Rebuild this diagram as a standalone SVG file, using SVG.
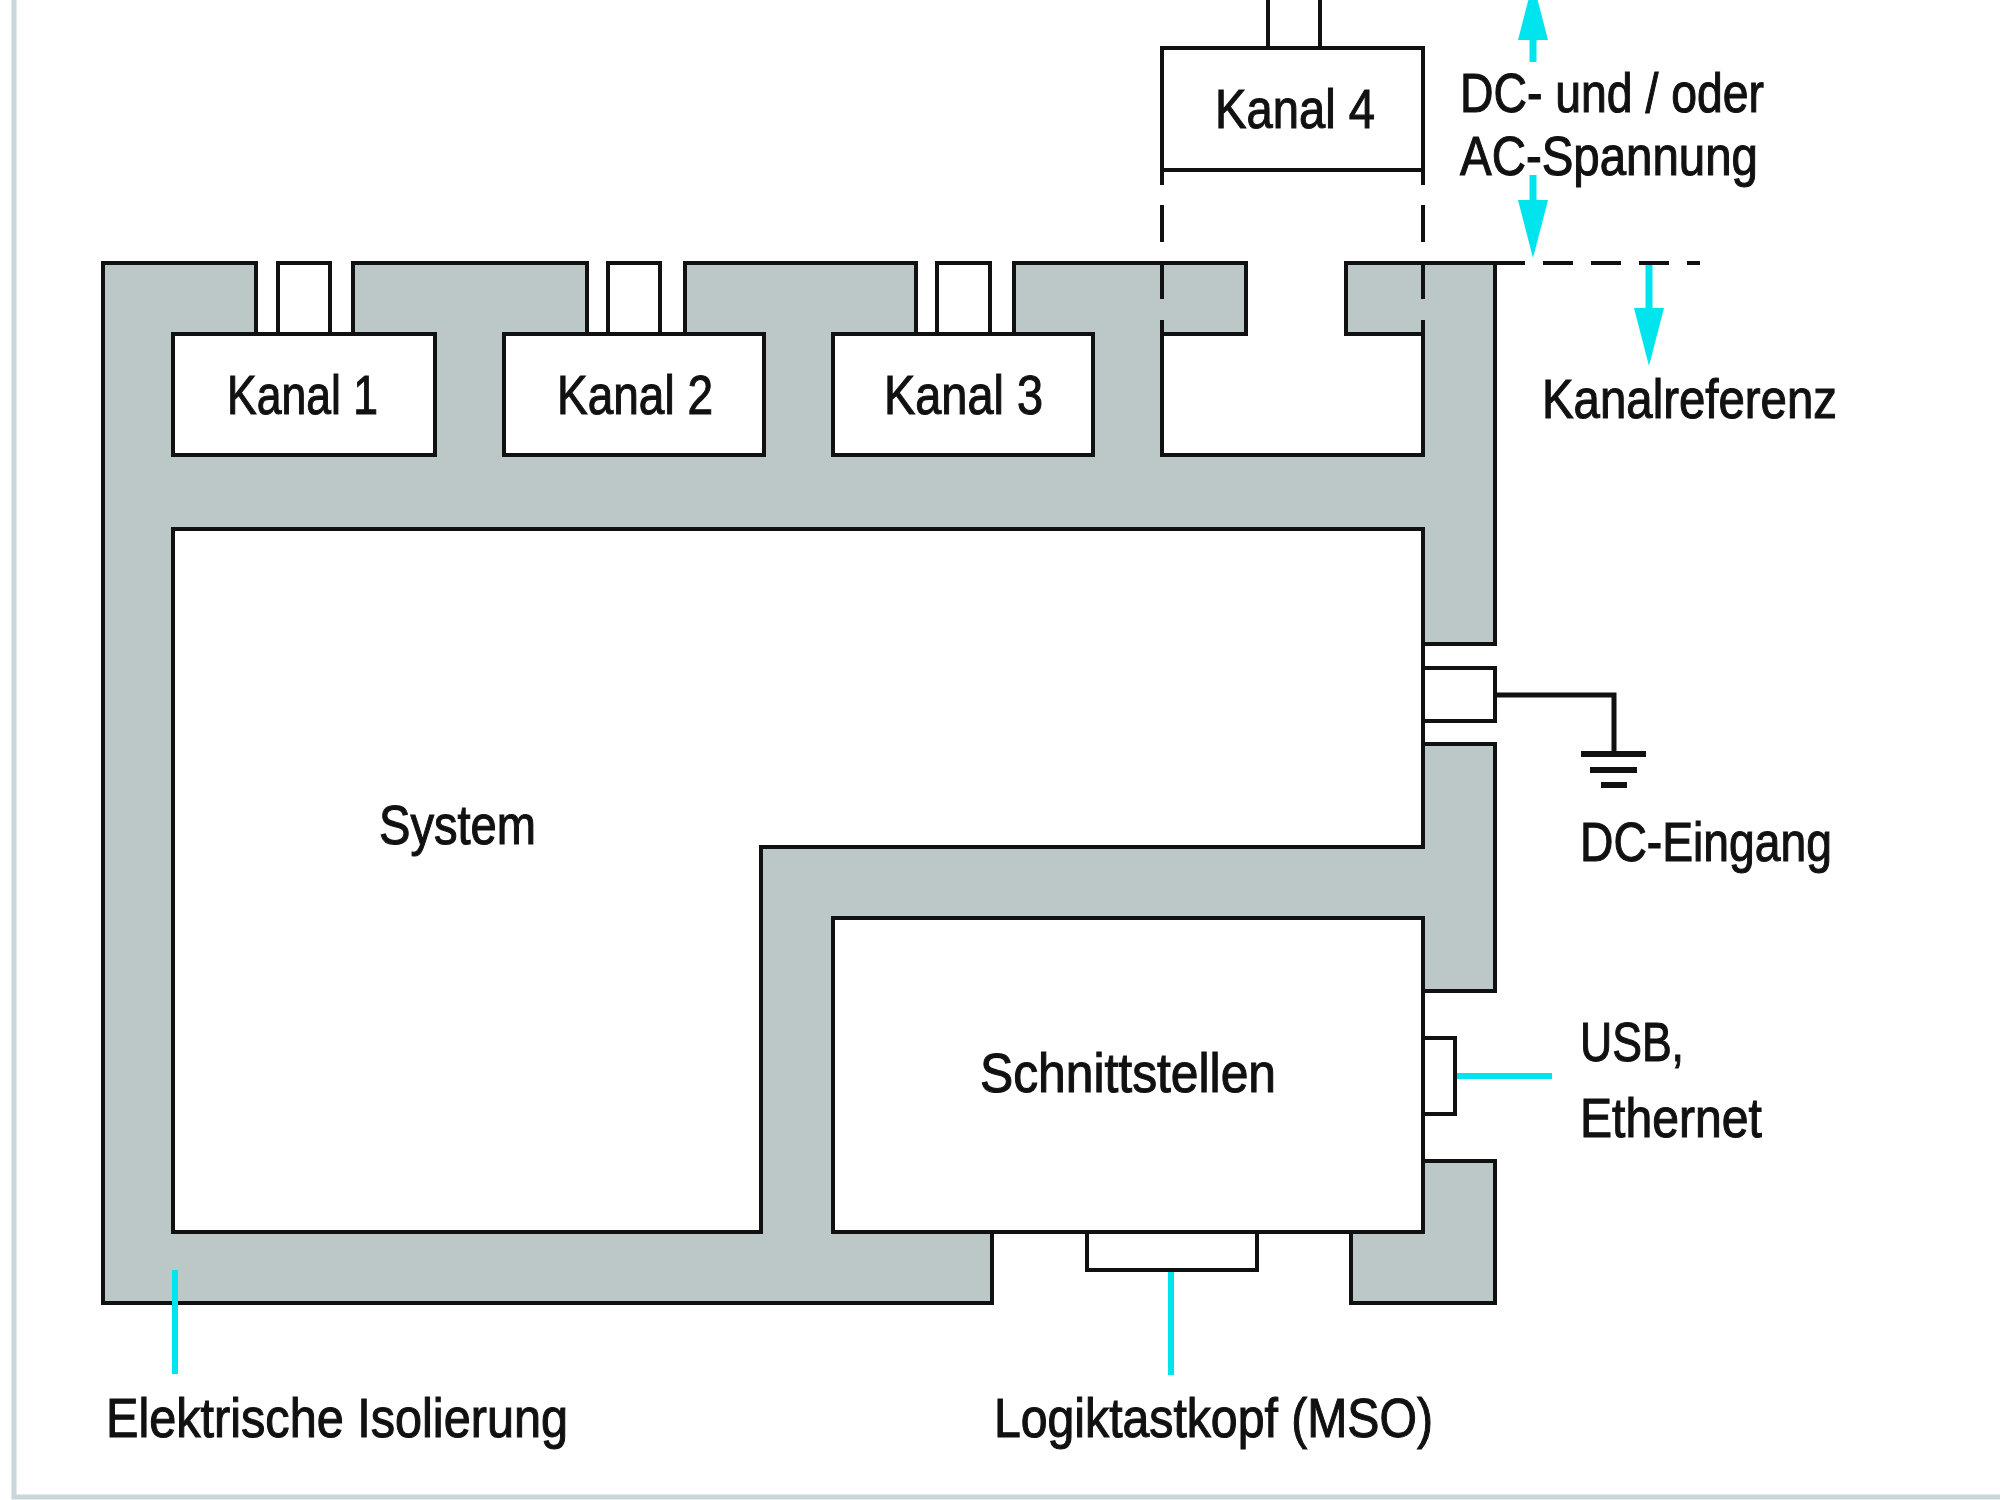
<svg xmlns="http://www.w3.org/2000/svg" width="2000" height="1500" viewBox="0 0 2000 1500">
<style>
.body{fill:#bcc8c8;stroke:#111;stroke-width:4;stroke-linejoin:miter}
.box{fill:#fff;stroke:#111;stroke-width:4}
.ln{fill:none;stroke:#111;stroke-width:4}
.cy{fill:none;stroke:#00e4ee;stroke-width:6}
.arr{fill:none;stroke:#00e4ee;stroke-width:7}
.t{font-family:"Liberation Sans",Arial,sans-serif;font-size:55px;fill:#111;stroke:#111;stroke-width:1.1}
.frame{fill:none;stroke:#c9d6da;stroke-width:5}
</style>
<defs>
<marker id="ah" viewBox="0 0 58 30" refX="0" refY="15" markerWidth="58" markerHeight="30" markerUnits="userSpaceOnUse" orient="auto">
<path d="M0,0 L58,15 L0,30 Z" fill="#00e4ee"/>
</marker>
</defs>
<rect width="2000" height="1500" fill="#fff"/>
<path class="frame" d="M14,0 V1497 H2000"/>

<g id="isolation">
<path class="body" d="M103,263 H256 V334 H353 V263 H587 V334 H685 V263 H916 V334 H1014 V263 H1246 V334 H1346 V263 H1495 V644 H1423 V744 H1495 V991 H1423 V1161 H1495 V1303 H1351 V1232 H992 V1303 H103 Z"/>
</g>

<g id="kanal1">
<rect class="box" x="278" y="263" width="52" height="71"/>
<rect class="box" x="173" y="334" width="262" height="121"/>
<text class="t" x="227" y="414" textLength="151" lengthAdjust="spacingAndGlyphs">Kanal 1</text>
</g>
<g id="kanal2">
<rect class="box" x="608" y="263" width="52" height="71"/>
<rect class="box" x="504" y="334" width="260" height="121"/>
<text class="t" x="557" y="414" textLength="156" lengthAdjust="spacingAndGlyphs">Kanal 2</text>
</g>
<g id="kanal3">
<rect class="box" x="937" y="263" width="53" height="71"/>
<rect class="box" x="833" y="334" width="260" height="121"/>
<text class="t" x="884" y="414" textLength="159" lengthAdjust="spacingAndGlyphs">Kanal 3</text>
</g>

<g id="kanal4-slot">
<rect x="1164" y="265" width="257" height="188" fill="#fff"/>
<rect x="1164" y="265" width="82" height="69" fill="#bcc8c8"/>
<rect x="1346" y="265" width="75" height="69" fill="#bcc8c8"/>
<path class="ln" d="M1162,334 V455 H1423 V334 M1162,334 H1246 V263 M1346,263 V334 H1423 M1346,263 H1495"/>
<path class="ln" d="M1162,334 V170 M1423,334 V170" stroke-dasharray="14 21 37 20 37 20 15"/>
</g>

<g id="kanal4">
<rect class="box" x="1268" y="-5" width="52" height="53"/>
<rect class="box" x="1162" y="48" width="261" height="122"/>
<text class="t" x="1215" y="128" textLength="160" lengthAdjust="spacingAndGlyphs">Kanal 4</text>
</g>

<g id="system">
<path class="box" d="M173,529 H1423 V847 H761 V1232 H173 Z"/>
<text class="t" x="379" y="844" textLength="157" lengthAdjust="spacingAndGlyphs">System</text>
</g>

<g id="schnittstellen">
<rect class="box" x="833" y="918" width="590" height="314"/>
<text class="t" x="980" y="1092" textLength="296" lengthAdjust="spacingAndGlyphs">Schnittstellen</text>
</g>

<g id="dc-connector">
<rect class="box" x="1423" y="668" width="72" height="53"/>
</g>
<g id="usb-connector">
<rect class="box" x="1423" y="1038" width="32" height="76"/>
</g>
<g id="logic-connector">
<rect class="box" x="1087" y="1232" width="170" height="38"/>
</g>

<g id="connectors">
<path d="M1495,695 H1614 V754" fill="none" stroke="#111" stroke-width="5"/>
<path d="M1581,754 H1646 M1590,770 H1637 M1601,785 H1627" fill="none" stroke="#111" stroke-width="6"/>
<line class="ln" x1="1495" y1="263" x2="1700" y2="263" stroke-dasharray="30 18" stroke="#333"/>
<line class="cy" x1="1457" y1="1076" x2="1552" y2="1076"/>
<line class="cy" x1="1171" y1="1272" x2="1171" y2="1375"/>
<line class="cy" x1="175" y1="1270" x2="175" y2="1374"/>
<line class="arr" x1="1533" y1="62" x2="1533" y2="40" marker-end="url(#ah)"/>
<line class="arr" x1="1533" y1="175" x2="1533" y2="200" marker-end="url(#ah)"/>
<line class="arr" x1="1649" y1="265" x2="1649" y2="308" marker-end="url(#ah)"/>
</g>

<g id="labels">
<text class="t" x="1460" y="112" textLength="304" lengthAdjust="spacingAndGlyphs">DC- und / oder</text>
<text class="t" x="1460" y="175" textLength="298" lengthAdjust="spacingAndGlyphs">AC-Spannung</text>
<text class="t" x="1542" y="418" textLength="295" lengthAdjust="spacingAndGlyphs">Kanalreferenz</text>
<text class="t" x="1580" y="861" textLength="252" lengthAdjust="spacingAndGlyphs">DC-Eingang</text>
<text class="t" x="1580" y="1061" textLength="104" lengthAdjust="spacingAndGlyphs">USB,</text>
<text class="t" x="1580" y="1137" textLength="182" lengthAdjust="spacingAndGlyphs">Ethernet</text>
<text class="t" x="106" y="1437" textLength="462" lengthAdjust="spacingAndGlyphs">Elektrische Isolierung</text>
<text class="t" x="994" y="1437" textLength="439" lengthAdjust="spacingAndGlyphs">Logiktastkopf (MSO)</text>
</g>
</svg>
